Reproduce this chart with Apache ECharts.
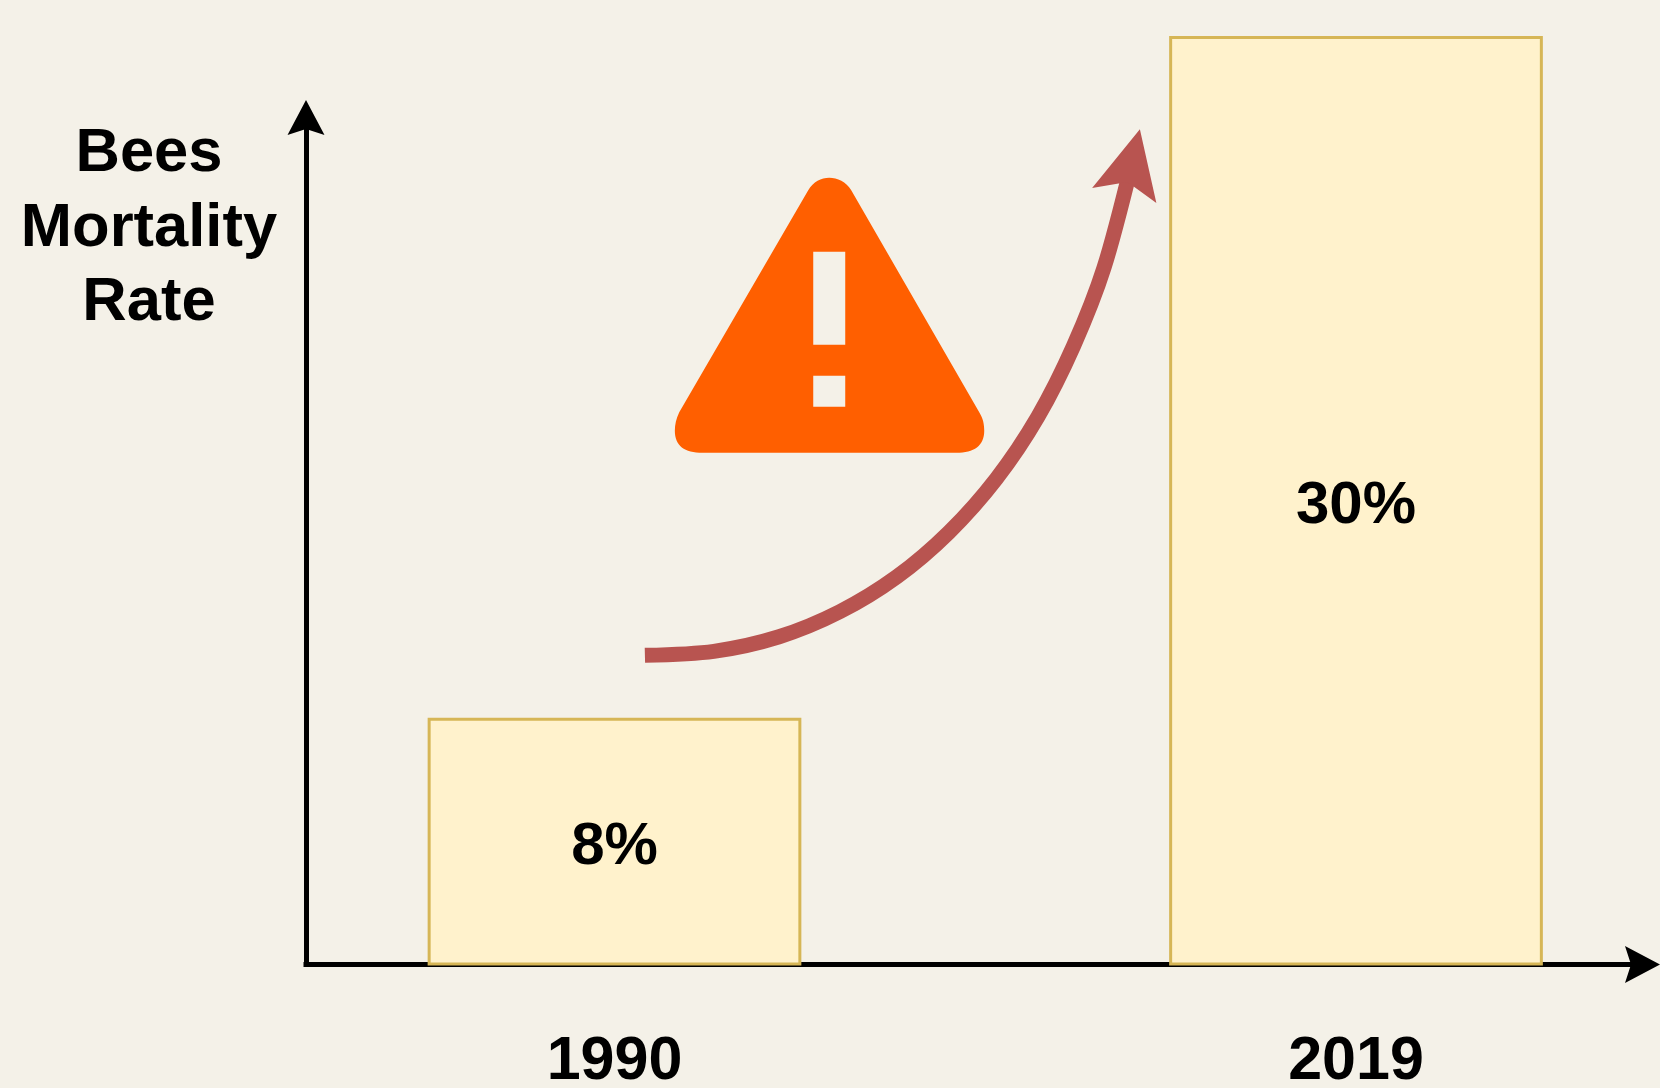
<!DOCTYPE html>
<html>
<head>
<meta charset="utf-8">
<title>Bees Mortality Rate</title>
<script src="https://cdn.jsdelivr.net/npm/echarts@6/dist/echarts.min.js"></script>
<style>
  html, body { margin: 0; padding: 0; background: #f4f1e8; }
  #chart { width: 1660px; height: 1088px; }
</style>
</head>
<body>
<div id="chart"></div>
<script>
// data
var years = ['1990', '2019'];
var mortalityRates = [8, 30];
// trend arrow, x in category positions (0 = 1990, 1 = 2019), y in percent
var trendX = [0.041, 0.134, 0.222, 0.304, 0.381, 0.451, 0.515, 0.571, 0.619, 0.660, 0.698];
var trendY = [10.01, 10.14, 10.61, 11.42, 12.55, 13.98, 15.71, 17.71, 19.99, 22.51, 25.92];
// where the warning icon sits, same units
var warningAt = [0.29, 20.99];

var FONT = '"Liberation Sans", Arial, sans-serif';
var BG = '#f4f1e8';

var chart = echarts.init(document.getElementById('chart'));

var trendData = trendX.map(function (x, i) {
  var item = { value: [x, trendY[i]] };
  // arrow head sits on the last point
  if (i === trendX.length - 1) {
    item.symbol = 'path://M0 0 L33.5 68 L0 54 L-33.5 68 Z';
    item.symbolSize = [67, 68];
    item.symbolRotate = -13.3;
    item.symbolKeepAspect = true;
    item.itemStyle = { color: '#b85450', opacity: 1 };
  }
  return item;
});

var arrowAxis = function (grid) {
  return {
    type: 'value',
    gridIndex: grid,
    min: 0,
    max: 1,
    axisLine: {
      show: true,
      onZero: false,
      symbol: ['none', 'path://M0 0 L18.5 35 L0 29 L-18.5 35 Z'],
      symbolSize: [37, 35],
      lineStyle: { color: '#000', width: 5, cap: 'square' }
    },
    axisTick: { show: false },
    axisLabel: { show: false },
    splitLine: { show: false }
  };
};

var option = {
  backgroundColor: BG,
  animation: false,
  title: {
    text: 'Bees\nMortality\nRate',
    left: 144,
    top: 112,
    textAlign: 'center',
    textStyle: { fontFamily: FONT, fontSize: 61.5, fontWeight: 'bold', color: '#000', lineHeight: 74.5 }
  },
  grid: [
    // bars and trend
    { left: 243.75, top: 36, width: 1483, height: 929.5, outerBoundsMode: 'none' },
    // axis lines with their arrows
    { left: 306, top: 117.5, width: 1336.5, height: 847, outerBoundsMode: 'none' }
  ],
  xAxis: [
    {
      type: 'category',
      gridIndex: 0,
      data: years,
      axisLine: { show: false },
      axisTick: { show: false },
      axisLabel: { margin: 66, fontFamily: FONT, fontSize: 61, fontWeight: 'bold', color: '#000' }
    },
    { type: 'value', gridIndex: 0, min: -0.5, max: 1.5, show: false },
    arrowAxis(1)
  ],
  yAxis: [
    { type: 'value', gridIndex: 0, min: 0, max: 30, show: false },
    arrowAxis(1)
  ],
  series: [
    {
      type: 'bar',
      xAxisIndex: 0,
      yAxisIndex: 0,
      data: mortalityRates,
      barWidth: '50.4%',
      itemStyle: { color: '#fff2cc', borderColor: '#d6b656', borderWidth: 3 },
      label: {
        show: true,
        position: 'inside',
        offset: [0, 6],
        formatter: '{c}%',
        fontFamily: FONT,
        fontSize: 60,
        fontWeight: 'bold',
        color: '#000'
      }
    },
    {
      type: 'line',
      xAxisIndex: 1,
      yAxisIndex: 0,
      data: trendData,
      smooth: 0.3,
      symbol: 'none',
      showSymbol: true,
      showAllSymbol: true,
      clip: false,
      lineStyle: { color: '#b85450', width: 15, cap: 'butt' },
      z: 5
    },
    {
      // warning icon, the exclamation mark is cut out of the triangle
      type: 'scatter',
      xAxisIndex: 1,
      yAxisIndex: 0,
      data: [warningAt],
      symbol: 'path://M808 190.6 C813 182 821 178 829 178 C837 178 846 182 851 190.6 L979 412.6 C983 419 984 425 984 431 C984 446 974 453 956 453 L702.5 453 C684 453 674.6 446 674.6 431 C674.6 425 676 419 679 412.6 Z M813 252 L813 345 L845 345 L845 252 Z M813 376 L813 407 L845 407 L845 376 Z',
      symbolSize: [309.4, 275],
      itemStyle: { color: '#ff5f00', opacity: 1 },
      clip: false,
      z: 6
    }
  ]
};

chart.setOption(option);
</script>
</body>
</html>
